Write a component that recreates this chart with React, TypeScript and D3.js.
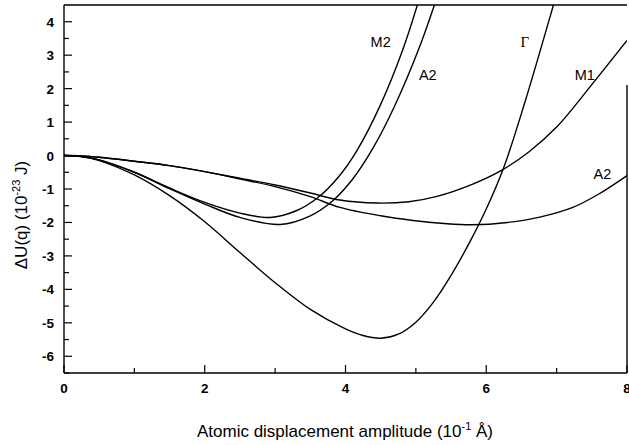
import React from "react";
import * as d3 from "d3";

const xTicks = [0, 2, 4, 6, 8];
const yTicks = [-6, -5, -4, -3, -2, -1, 0, 1, 2, 3, 4];

const gammaX = [0, 0.25, 0.5, 1, 1.5, 2, 2.5, 3, 3.5, 4, 4.25, 4.5, 4.75, 5.0, 5.25, 5.5, 5.75, 6.0, 6.25, 6.55, 6.9, 7.05];
const gammaY = [0, -0.03, -0.15, -0.58, -1.2, -1.98, -2.9, -3.8, -4.6, -5.18, -5.38, -5.46, -5.34, -4.98, -4.38, -3.58, -2.65, -1.6, -0.35, 1.6, 4.1, 5.2];

const m2X = [0, 0.25, 0.5, 1, 1.5, 2, 2.5, 2.93, 3.3, 3.6, 3.9, 4.16, 4.5, 4.82, 5.05, 5.2];
const m2Y = [0, -0.03, -0.13, -0.5, -0.97, -1.4, -1.72, -1.85, -1.65, -1.27, -0.64, 0.14, 1.53, 3.2, 4.7, 5.8];

const a2uX = [0, 0.25, 0.5, 1, 1.5, 2, 2.5, 3.07, 3.5, 3.82, 4.1, 4.39, 4.7, 5.06, 5.3, 5.45];
const a2uY = [0, -0.03, -0.13, -0.5, -0.99, -1.45, -1.85, -2.06, -1.8, -1.35, -0.71, 0.22, 1.49, 3.29, 4.73, 5.7];

const m1X = [0, 0.25, 0.5, 1, 1.5, 2, 2.5, 3, 3.5, 3.92, 4.45, 4.9, 5.3, 5.8, 6.21, 6.6, 7.0, 7.5, 8.0];
const m1Y = [0, -0.01, -0.05, -0.17, -0.3, -0.48, -0.68, -0.88, -1.12, -1.33, -1.42, -1.38, -1.22, -0.86, -0.45, 0.1, 0.85, 2.12, 3.44];

const a2lX = [0, 0.25, 0.5, 1, 1.5, 2, 2.5, 3, 3.5, 3.92, 4.5, 4.96, 5.4, 5.8, 6.3, 6.76, 7.23, 7.6, 8.0];
const a2lY = [0, -0.01, -0.05, -0.17, -0.3, -0.48, -0.7, -0.93, -1.23, -1.55, -1.8, -1.94, -2.03, -2.07, -2.0, -1.84, -1.55, -1.15, -0.6];

const series = [
  { name: "Γ", xs: gammaX, ys: gammaY },
  { name: "M2", xs: m2X, ys: m2Y },
  { name: "A2", xs: a2uX, ys: a2uY },
  { name: "M1", xs: m1X, ys: m1Y },
  { name: "A2", xs: a2lX, ys: a2lY },
];

const labels = [
  { text: "M2", x: 4.5, y: 3.38, serif: false },
  { text: "A2", x: 5.17, y: 2.4, serif: false },
  { text: "Γ", x: 6.55, y: 3.4, serif: true },
  { text: "M1", x: 7.4, y: 2.4, serif: false },
  { text: "A2", x: 7.65, y: -0.55, serif: false },
];

export default function App() {
  const left = 64;
  const right = 627;
  const top = 5;
  const bottom = 373;
  const x = d3.scaleLinear().domain([0, 8]).range([left, right]);
  const y = d3.scaleLinear().domain([-6.5, 4.5]).range([bottom, top]);
  const line = d3
    .line<[number, number]>()
    .x((d) => x(d[0]))
    .y((d) => y(d[1]))
    .curve(d3.curveCatmullRom.alpha(0.5));

  const xMinor = d3.range(1, 8, 2);
  const yMinor = d3.range(-6.5, 4.5, 1);
  const font = "Arial, 'Liberation Sans', Helvetica, sans-serif";

  return (
    <svg
      width={629}
      height={445}
      style={{ position: "absolute", left: 0, top: 0, background: "#fff" }}
      fontFamily={font}
    >
      <defs>
        <clipPath id="plotClip">
          <rect x={left} y={top} width={right - left} height={bottom - top} />
        </clipPath>
      </defs>
      <rect x={0} y={0} width={629} height={445} fill="#fff" />
      <line x1={left} y1={top} x2={right} y2={top} stroke="#000" strokeWidth={1.4} />
      <line x1={left} y1={top} x2={left} y2={bottom} stroke="#000" strokeWidth={1.4} />
      <line x1={left} y1={bottom} x2={right} y2={bottom} stroke="#000" strokeWidth={1.4} />
      <line x1={right} y1={85} x2={right} y2={bottom} stroke="#000" strokeWidth={1.4} />
      {xTicks.map((t) => (
        <g key={"xt" + t}>
          <line x1={x(t)} x2={x(t)} y1={bottom} y2={bottom - 8} stroke="#000" strokeWidth={1.2} />
          <text x={x(t)} y={bottom + 20} textAnchor="middle" fontSize={13.5} fontWeight="bold">
            {t}
          </text>
        </g>
      ))}
      {xMinor.map((t) => (
        <line key={"xm" + t} x1={x(t)} x2={x(t)} y1={bottom} y2={bottom - 5} stroke="#000" strokeWidth={1.2} />
      ))}
      {yTicks.map((t) => (
        <g key={"yt" + t}>
          <line x1={left} x2={left + 8} y1={y(t)} y2={y(t)} stroke="#000" strokeWidth={1.2} />
          <text x={left - 10} y={y(t) + 5} textAnchor="end" fontSize={13.5} fontWeight="bold">
            {t}
          </text>
        </g>
      ))}
      {yMinor.map((t) => (
        <line key={"ym" + t} x1={left} x2={left + 5} y1={y(t)} y2={y(t)} stroke="#000" strokeWidth={1.2} />
      ))}
      <g clipPath="url(#plotClip)">
        {series.map((s, i) => (
          <path
            key={"s" + i}
            d={line(s.xs.map((v, j) => [v, s.ys[j]] as [number, number])) || ""}
            fill="none"
            stroke="#000"
            strokeWidth={1.4}
          />
        ))}
      </g>
      {labels.map((l, i) => (
        <text
          key={"l" + i}
          x={x(l.x)}
          y={y(l.y) + 5}
          textAnchor="middle"
          fontSize={l.serif ? 15 : 14.5}
          fontFamily={l.serif ? "'Liberation Serif', 'DejaVu Serif', serif" : font}
        >
          {l.text}
        </text>
      ))}
      <text x={345} y={437} textAnchor="middle" fontSize={17}>
        Atomic displacement amplitude (10
        <tspan dy={-7} fontSize={11}>-1</tspan>
        <tspan dy={7}> Å)</tspan>
      </text>
      <text transform={`translate(27, ${215}) rotate(-90)`} textAnchor="middle" fontSize={17}>
        ΔU(q) (10
        <tspan dy={-7} fontSize={11}>-23</tspan>
        <tspan dy={7}> J)</tspan>
      </text>
    </svg>
  );
}
